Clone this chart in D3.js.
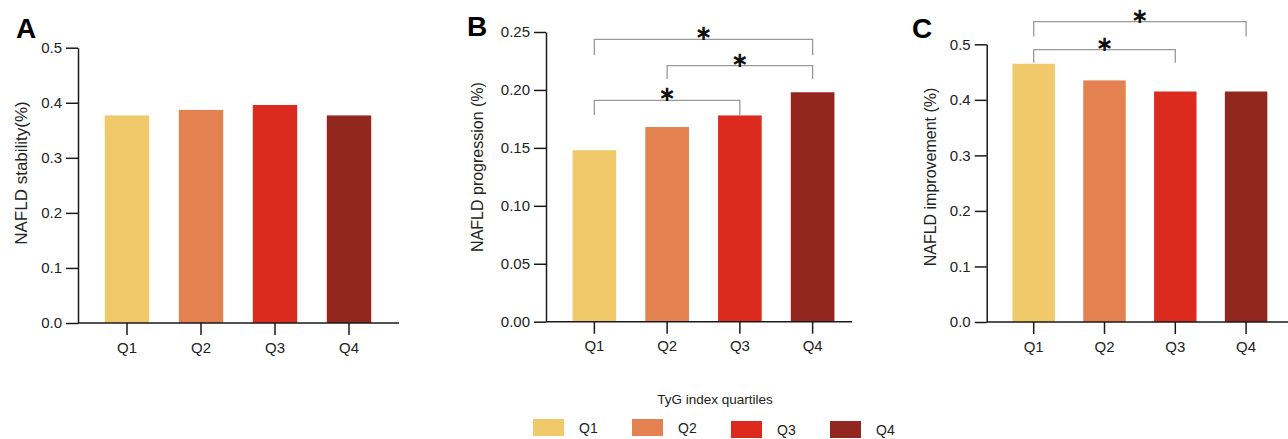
<!DOCTYPE html>
<html><head><meta charset="utf-8">
<script src="https://cdn.jsdelivr.net/npm/d3@7"></script>
<style>body{margin:0;background:#fff}svg{display:block;font-family:Arial,"Liberation Sans",sans-serif}</style>
</head><body><svg id="c" width="1288" height="439"></svg>
<script>
const categories = ["Q1","Q2","Q3","Q4"];
const colors = ["#F0C96A","#E38150","#DC2B1E","#92271F"];
const stability = [0.377, 0.387, 0.396, 0.377];
const progression = [0.148, 0.168, 0.178, 0.198];
const improvement = [0.465, 0.435, 0.415, 0.415];
const ticksA = [0,0.1,0.2,0.3,0.4,0.5];
const ticksB = [0,0.05,0.10,0.15,0.20,0.25];
const ticksC = [0,0.1,0.2,0.3,0.4,0.5];
// significance brackets: [from, to, level, leftEnd, rightEnd]
const sigB = [["Q1","Q4",0.2437,0.230,0.230],["Q2","Q4",0.2209,0.2094,0.2094],["Q1","Q3",0.191,0.1784,0.1784]];
const sigC = [["Q1","Q4",0.541,0.514,0.514],["Q1","Q3",0.4905,0.467,0.467]];
const sigLabel = "∗";
const legendTitle = "TyG index quartiles";

const svg = d3.select("#c");
const panels = [
  {letter:"A", values:stability, ticks:ticksA, fmt:".1f", max:0.5, title:"NAFLD stability(%)", titleSize:17,
   y:[323,47.7], x:[90,386], axisX:[78,399], lx:16, ly:38, tx:21, ty:173, sig:[]},
  {letter:"B", values:progression, ticks:ticksB, fmt:".2f", max:0.25, title:"NAFLD progression (%)", titleSize:16,
   y:[321.7,32], x:[558,849], axisX:[546,852], lx:467, ly:36, tx:477, ty:167, sig:sigB},
  {letter:"C", values:improvement, ticks:ticksC, fmt:".1f", max:0.5, title:"NAFLD improvement (%)", titleSize:16,
   y:[322,44.3], x:[998.3,1281.5], axisX:[986.7,1288], lx:912, ly:38, tx:930, ty:177, sig:sigC}
];

panels.forEach(p => {
  const g = svg.append("g");
  const y = d3.scaleLinear().domain([0,p.max]).range(p.y);
  const x = d3.scaleBand().domain(categories).range(p.x).paddingInner(0.4).paddingOuter(0.2);
  g.selectAll("rect.bar").data(p.values).join("rect").attr("class","bar")
    .attr("x",(d,i)=>x(categories[i])).attr("width",x.bandwidth())
    .attr("y",d=>y(d)).attr("height",d=>y(0)-y(d))
    .attr("fill",(d,i)=>colors[i]);
  const ya = g.append("g").attr("transform",`translate(${p.axisX[0]},0)`)
    .call(d3.axisLeft(y).tickValues(p.ticks).tickFormat(d3.format(p.fmt)).tickSize(12).tickSizeOuter(0).tickPadding(4));
  ya.selectAll("text").attr("font-size",15).attr("fill","#222").attr("font-family","Arial,Liberation Sans,sans-serif");
  ya.selectAll("line,path").attr("stroke","#1a1a1a").attr("stroke-width",1.5);
  const xa = g.append("g").attr("transform",`translate(0,${p.y[0]})`)
    .call(d3.axisBottom(x).tickSize(12).tickSizeOuter(0).tickPadding(7));
  xa.select(".domain").remove();
  xa.selectAll("text").attr("font-size",15).attr("fill","#222").attr("font-family","Arial,Liberation Sans,sans-serif");
  xa.selectAll("line").attr("stroke","#1a1a1a").attr("stroke-width",1.5);
  g.append("line").attr("x1",p.axisX[0]).attr("x2",p.axisX[1]).attr("y1",p.y[0]).attr("y2",p.y[0])
    .attr("stroke","#1a1a1a").attr("stroke-width",1.5);
  g.append("text").attr("x",p.lx).attr("y",p.ly).text(p.letter)
    .attr("font-size",28).attr("font-weight","bold").attr("fill","#000");
  g.append("text").attr("transform",`translate(${p.tx},${p.ty}) rotate(-90)`)
    .attr("text-anchor","middle").attr("dominant-baseline","central")
    .attr("font-size",p.titleSize).attr("fill","#222").text(p.title);
  p.sig.forEach(s => {
    const x1 = x(s[0])+x.bandwidth()/2, x2 = x(s[1])+x.bandwidth()/2;
    const yl = y(s[2]);
    g.append("path").attr("d",`M${x1},${y(s[3])}V${yl}H${x2}V${y(s[4])}`)
      .attr("fill","none").attr("stroke","#999").attr("stroke-width",1.3);
    g.append("text").attr("x",(x1+x2)/2).attr("y",yl-6).attr("text-anchor","middle")
      .attr("dominant-baseline","central")
      .attr("font-family","DejaVu Sans").attr("font-size",21).attr("font-weight","bold")
      .attr("fill","#111").text(sigLabel);
  });
});

const lg = svg.append("g");
lg.append("text").attr("x",715).attr("y",399).attr("text-anchor","middle").attr("dominant-baseline","central")
  .attr("font-size",13.5).attr("fill","#222").text(legendTitle);
const legX = d3.scalePoint().domain(categories).range([533,830]);
const legY = [419,419,421,421];
categories.forEach((c,i)=>{
  lg.append("rect").attr("x",legX(c)).attr("y",legY[i]).attr("width",31).attr("height",17).attr("fill",colors[i]);
  lg.append("text").attr("x",legX(c)+46).attr("y",legY[i]+9).attr("dominant-baseline","central")
    .attr("font-size",14).attr("fill","#222").text(c);
});
</script></body></html>
